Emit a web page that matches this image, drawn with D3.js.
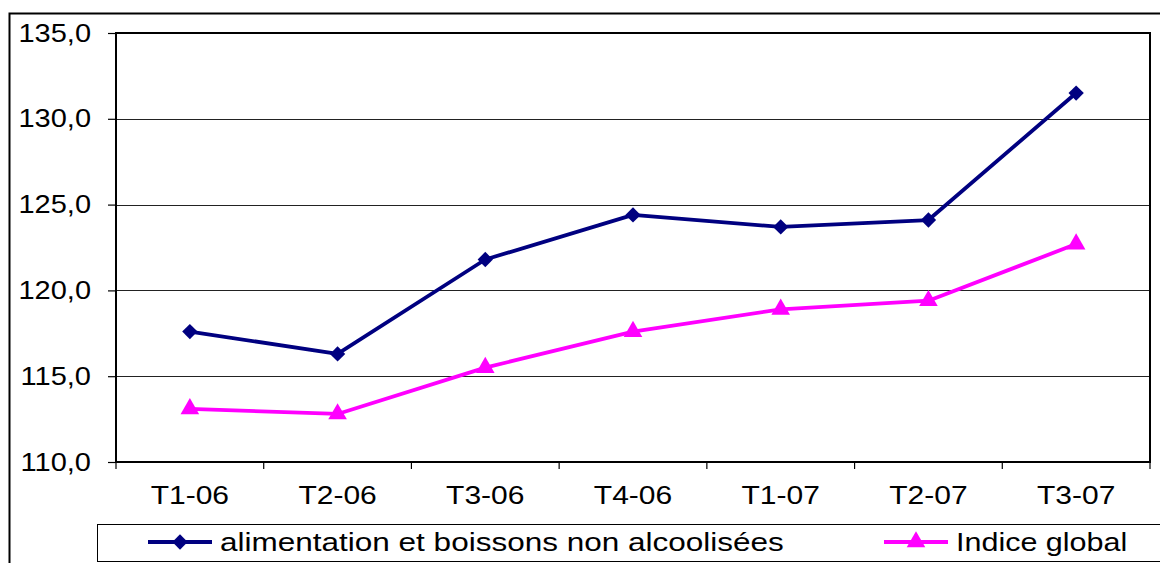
<!DOCTYPE html>
<html>
<head>
<meta charset="utf-8">
<script src="https://cdn.jsdelivr.net/npm/d3@7"></script>
<style>
  body { margin: 0; background: #fff; }
  svg { display: block; font-family: "Liberation Sans", Arial, sans-serif; }
</style>
</head>
<body>
<div id="chart"></div>
<script>
// data
const categories = ['T1-06', 'T2-06', 'T3-06', 'T4-06', 'T1-07', 'T2-07', 'T3-07'];
const alimentation = [117.6, 116.3, 121.8, 124.4, 123.7, 124.1, 131.5];
const indiceGlobal = [113.1, 112.8, 115.5, 117.6, 118.9, 119.4, 122.7];
const yTicks = [110, 115, 120, 125, 130, 135];
const seriesNames = ['alimentation et boissons non alcoolisées', 'Indice global'];

const W = 1160, H = 563;
const plot = { left: 116, top: 33, right: 1150, bottom: 462 };
const fontSize = 25;

// the source image is stretched horizontally, widen glyphs to match
const stretch = (sel, k) => sel.each(function () {
    const w = this.getComputedTextLength();
    d3.select(this)
        .attr('textLength', w * k)
        .attr('lengthAdjust', 'spacingAndGlyphs');
});

const svg = d3.select('#chart').append('svg')
    .attr('width', W)
    .attr('height', H);

// outer chart border (cropped at right/bottom)
svg.append('path')
    .attr('d', `M9.5,${H + 2} V13.5 H${W + 2}`)
    .attr('fill', 'none')
    .attr('stroke', '#000')
    .attr('stroke-width', 2);

const x = d3.scaleBand()
    .domain(categories)
    .range([plot.left, plot.right]);

const y = d3.scaleLinear()
    .domain([110, 135])
    .range([plot.bottom, plot.top]);

// gridlines
svg.append('g')
    .selectAll('line')
    .data(yTicks)
    .enter()
    .append('line')
    .attr('x1', plot.left)
    .attr('x2', plot.right)
    .attr('y1', d => Math.round(y(d)) + 0.5)
    .attr('y2', d => Math.round(y(d)) + 0.5)
    .attr('stroke', '#222')
    .attr('stroke-width', 1);

// plot border
svg.append('rect')
    .attr('x', plot.left)
    .attr('y', plot.top)
    .attr('width', plot.right - plot.left)
    .attr('height', plot.bottom - plot.top)
    .attr('fill', 'none')
    .attr('stroke', '#000')
    .attr('stroke-width', 2);

// y axis
const yAxis = svg.append('g')
    .attr('transform', `translate(${plot.left},0)`)
    .call(d3.axisLeft(y).tickValues(yTicks).tickSize(8).tickPadding(17)
        .tickFormat(d => d3.format('.1f')(d).replace('.', ',')));
yAxis.select('.domain').remove();
yAxis.selectAll('.tick line').attr('stroke', '#000').attr('stroke-width', 1.2);
yAxis.selectAll('text')
    .attr('font-size', fontSize)
    .attr('fill', '#000')
    .style('font-family', '"Liberation Sans", Arial, sans-serif')
    .call(stretch, 1.16);

// x axis
const xAxis = svg.append('g')
    .attr('transform', `translate(0,${plot.bottom})`)
    .call(d3.axisBottom(x).tickSize(0).tickPadding(24));
xAxis.select('.domain').remove();
xAxis.selectAll('text')
    .attr('font-size', fontSize)
    .attr('fill', '#000')
    .style('font-family', '"Liberation Sans", Arial, sans-serif')
    .call(stretch, 1.2);

// x tick marks at band boundaries
const bounds = categories.map(c => x(c)).concat([plot.right]);
svg.append('g')
    .selectAll('line')
    .data(bounds)
    .enter()
    .append('line')
    .attr('x1', d => d)
    .attr('x2', d => d)
    .attr('y1', plot.bottom)
    .attr('y2', plot.bottom + 7)
    .attr('stroke', '#000')
    .attr('stroke-width', 1.2);

const cx = c => x(c) + x.bandwidth() / 2;
const line = d3.line()
    .x((d, i) => cx(categories[i]))
    .y(d => y(d));

const diamond = d3.symbol().type(d3.symbolDiamond2).size(150);
const triangle = d3.symbol().type(d3.symbolTriangle).size(150);

const series = [
    { name: seriesNames[0], values: alimentation, color: '#000080', symbol: diamond },
    { name: seriesNames[1], values: indiceGlobal, color: '#ff00ff', symbol: triangle }
];

series.forEach(s => {
    svg.append('path')
        .datum(s.values)
        .attr('d', line)
        .attr('fill', 'none')
        .attr('stroke', s.color)
        .attr('stroke-width', 3.8)
        .attr('stroke-linejoin', 'round');

    svg.append('g')
        .selectAll('path')
        .data(s.values)
        .enter()
        .append('path')
        .attr('d', s.symbol)
        .attr('transform', (d, i) => `translate(${cx(categories[i])},${y(d)})`)
        .attr('fill', s.color);
});

// legend
const legend = svg.append('g');
legend.append('rect')
    .attr('x', 97.5)
    .attr('y', 524.5)
    .attr('width', 1070)
    .attr('height', 37)
    .attr('fill', 'none')
    .attr('stroke', '#000')
    .attr('stroke-width', 1);

const legendItems = [
    { s: series[0], x0: 148, x1: 212, tx: 220, k: 1.26 },
    { s: series[1], x0: 884, x1: 948, tx: 956, k: 1.22 }
];
legendItems.forEach(it => {
    const ly = 542;
    legend.append('line')
        .attr('x1', it.x0).attr('x2', it.x1)
        .attr('y1', ly).attr('y2', ly)
        .attr('stroke', it.s.color)
        .attr('stroke-width', 3.8);
    legend.append('path')
        .attr('d', it.s.symbol)
        .attr('transform', `translate(${(it.x0 + it.x1) / 2},${ly})`)
        .attr('fill', it.s.color);
    legend.append('text')
        .attr('x', it.tx)
        .attr('y', ly)
        .attr('dy', '0.35em')
        .attr('font-size', fontSize)
        .attr('fill', '#000')
        .text(it.s.name)
        .call(stretch, it.k);
});
</script>
</body>
</html>
